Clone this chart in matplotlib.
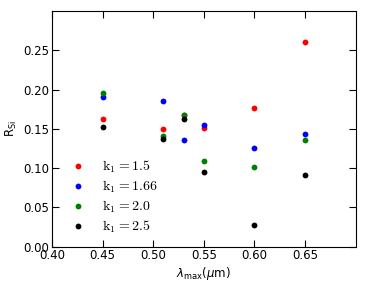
import matplotlib
matplotlib.use("Agg")
import matplotlib.pyplot as plt
from matplotlib.font_manager import FontProperties

wavelengths = [0.45, 0.51, 0.53, 0.55, 0.60, 0.65]
r_k15 = [0.163, 0.150, 0.168, 0.151, 0.177, 0.261]
r_k166 = [0.190, 0.185, 0.136, 0.155, 0.125, 0.143]
r_k20 = [0.195, 0.141, 0.167, 0.109, 0.102, 0.136]
r_k25 = [0.152, 0.137, 0.163, 0.095, 0.027, 0.091]
labels = [r"$\mathrm{k_1 = 1.5}$", r"$\mathrm{k_1 = 1.66}$",
          r"$\mathrm{k_1 = 2.0}$", r"$\mathrm{k_1 = 2.5}$"]
colors = ["red", "blue", "green", "black"]
xticks = [0.40, 0.45, 0.50, 0.55, 0.60, 0.65]
yticks = [0.00, 0.05, 0.10, 0.15, 0.20, 0.25]

fig = plt.figure(figsize=(3.74, 2.84), dpi=100)
ax = fig.add_axes([52/374, 1 - 246.7/284, (355.5 - 52)/374, (246.7 - 11)/284])

for ys, lab, c in zip([r_k15, r_k166, r_k20, r_k25], labels, colors):
    ax.plot(wavelengths, ys, "o", color=c, markersize=4.2, markeredgewidth=0, label=lab)

ax.set_xlim(0.40, 0.70)
ax.set_ylim(0.0, 0.30)
ax.set_xticks(xticks)
ax.set_yticks(yticks)
ax.set_xticklabels([f"{v:.2f}" for v in xticks])
ax.set_yticklabels([f"{v:.2f}" for v in yticks])
ax.tick_params(direction="in", length=5, width=0.8, top=True, right=True,
               labelsize=8.5, pad=2)
for s in ax.spines.values():
    s.set_linewidth(0.8)
ax.set_xlabel(r"$\lambda_{\mathrm{max}}(\mu\mathrm{m})$", fontsize=8.5, labelpad=2)
ax.set_ylabel(r"$\mathrm{R_{Si}}$", fontsize=8.5, labelpad=3)

leg = ax.legend(loc="lower left", frameon=False, numpoints=1,
                prop=FontProperties(size=10, math_fontfamily="cm"),
                handlelength=1.5, handletextpad=1.0, labelspacing=0.25,
                borderaxespad=0.0, bbox_to_anchor=(0.033, 0.026))

fig.savefig("out.png", dpi=100)
